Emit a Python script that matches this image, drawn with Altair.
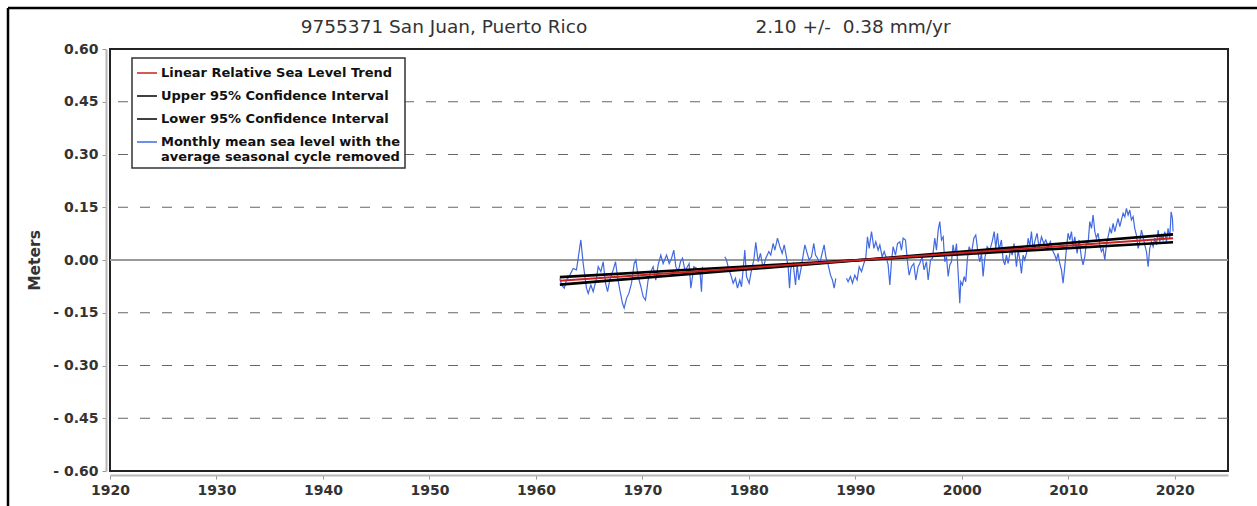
import altair as alt
import pandas as pd

# ---- station / fit summary ----
STATION = "9755371 San Juan, Puerto Rico"
RATE_MM_YR = 2.10
RATE_CI_MM_YR = 0.38
RATE_TEXT = "2.10 +/-\u00a0\u00a00.38 mm/yr"
FIT_YEARS = [1962.25, 2019.84]
PIVOT_YEAR = 1990.5

TREND = "Linear Relative Sea Level Trend"
UPPER = "Upper 95% Confidence Interval"
LOWER = "Lower 95% Confidence Interval"
MONTHLY = "Monthly mean sea level with the|average seasonal cycle removed"
SERIES = [TREND, UPPER, LOWER, MONTHLY]
SERIES_COLORS = ["#cc1f1f", "#000000", "#000000", "#4169e1"]

X_TICKS = [1920, 1930, 1940, 1950, 1960, 1970, 1980, 1990, 2000, 2010, 2020]
Y_TICKS = [-0.60, -0.45, -0.30, -0.15, 0.00, 0.15, 0.30, 0.45, 0.60]
GRID_LEVELS = [-0.45, -0.30, -0.15, 0.15, 0.30, 0.45]

# ---- monthly mean sea level (seasonal cycle removed), metres ----
RUN_A_YEARS = [1962.25, 1962.41, 1962.66, 1962.88, 1963.19, 1963.50, 1963.81, 1963.97,
               1964.22, 1964.44, 1964.75, 1964.91, 1965.16, 1965.38, 1965.69, 1965.85,
               1966.10, 1966.32, 1966.54, 1966.73, 1966.94, 1967.26, 1967.48, 1967.66,
               1967.88, 1968.13, 1968.29, 1968.51, 1968.73, 1968.98, 1969.23, 1969.39,
               1969.60, 1969.86, 1970.07, 1970.29, 1970.54, 1970.79, 1971.01, 1971.26,
               1971.48, 1971.73, 1971.95,
               1972.27, 1972.52, 1972.74, 1972.95, 1973.14, 1973.36, 1973.58, 1973.77,
               1973.99, 1974.14, 1974.39, 1974.55, 1974.71, 1974.83, 1975.15, 1975.40,
               1975.55, 1975.65]
RUN_A_LEVELS = [-0.052, -0.071, -0.080, -0.057, -0.043, -0.024, -0.028, 0.005,
                0.057, -0.010, -0.080, -0.095, -0.071, -0.090, -0.052, -0.019,
                -0.033, -0.005, -0.066, -0.090, -0.057, -0.028, -0.005, -0.047,
                -0.085, -0.123, -0.137, -0.109, -0.095, -0.066, -0.010, 0.000,
                -0.047, -0.076, -0.104, -0.114, -0.057, -0.033, -0.019, -0.057,
                -0.014, 0.014, -0.010,
                0.014, -0.010, 0.005, 0.028, -0.019, -0.033, -0.005, 0.005,
                -0.028, -0.024, -0.010, -0.080, -0.047, -0.019, -0.024, -0.028,
                -0.090, -0.019]

RUN_B_YEARS = [1977.74, 1977.90, 1978.12, 1978.31, 1978.53, 1978.74, 1978.93, 1979.15,
               1979.31, 1979.46, 1979.62, 1979.78, 1980.03, 1980.25, 1980.47, 1980.65,
               1980.87, 1981.09, 1981.34, 1981.59,
               1981.88, 1982.06, 1982.28, 1982.44, 1982.69, 1982.91, 1983.13, 1983.32,
               1983.53, 1983.69, 1983.82, 1983.94, 1984.16, 1984.38, 1984.54, 1984.69,
               1984.88, 1985.10, 1985.26, 1985.48, 1985.66, 1985.88, 1986.10, 1986.26,
               1986.45, 1986.66, 1986.88, 1987.07, 1987.23, 1987.45, 1987.67, 1987.85,
               1988.01, 1988.17]
RUN_B_LEVELS = [0.009, 0.000, -0.028, -0.043, -0.066, -0.052, -0.080, -0.057,
                -0.076, -0.028, 0.028, -0.047, -0.066, -0.028, 0.000, 0.050,
                -0.005, 0.019, -0.024, 0.005,
                0.024, 0.014, 0.047, 0.028, 0.062, 0.038, 0.019, 0.043,
                0.009, -0.019, -0.080, -0.024, -0.010, -0.071, -0.014, -0.057,
                -0.028, 0.014, 0.043, 0.019, 0.000, 0.009, 0.047, 0.014,
                0.005, -0.010, 0.019, 0.043, 0.009, -0.014, -0.043, -0.057,
                -0.080, -0.052]

RUN_C_YEARS = [1989.17, 1989.32, 1989.54, 1989.73, 1989.95, 1990.17, 1990.36, 1990.58,
               1990.80, 1990.98, 1991.14, 1991.30, 1991.52,
               1991.74, 1991.92, 1992.14, 1992.30, 1992.52, 1992.71, 1992.92, 1993.08,
               1993.24, 1993.39, 1993.55, 1993.77, 1993.96, 1994.18, 1994.33, 1994.49,
               1994.71, 1994.90, 1995.05, 1995.27, 1995.49, 1995.68, 1995.90, 1996.05,
               1996.27, 1996.46, 1996.68, 1996.84, 1997.06, 1997.24, 1997.46, 1997.62,
               1997.78, 1997.93, 1998.09, 1998.25, 1998.40, 1998.56, 1998.72, 1998.87,
               1999.03, 1999.18, 1999.34, 1999.50, 1999.65, 1999.81, 1999.90, 2000.06,
               2000.22, 2000.37, 2000.53, 2000.69, 2000.91, 2001.13, 2001.31,
               2001.53, 2001.69, 2001.85, 2002.00, 2002.16, 2002.38, 2002.63, 2002.85,
               2003.04, 2003.19, 2003.35, 2003.50, 2003.72, 2003.88, 2004.04, 2004.19,
               2004.35, 2004.57, 2004.73, 2004.91, 2005.13, 2005.29, 2005.45, 2005.60,
               2005.76, 2005.91, 2006.07, 2006.23, 2006.38, 2006.54, 2006.70, 2006.85,
               2007.07, 2007.26, 2007.48, 2007.70, 2007.89, 2008.11, 2008.32, 2008.51,
               2008.73, 2008.89, 2009.04, 2009.20, 2009.36, 2009.51, 2009.67, 2009.83,
               2009.98, 2010.14, 2010.30, 2010.45, 2010.61, 2010.83, 2011.02,
               2011.24, 2011.39, 2011.55, 2011.71, 2011.86, 2012.02, 2012.18, 2012.33,
               2012.49, 2012.64, 2012.80, 2012.96, 2013.11, 2013.27, 2013.43, 2013.58,
               2013.74, 2013.90, 2014.05, 2014.21, 2014.37, 2014.52, 2014.68, 2014.84,
               2014.99, 2015.15, 2015.31, 2015.46, 2015.62, 2015.77, 2015.93, 2016.09,
               2016.24, 2016.40, 2016.56, 2016.71, 2016.87, 2017.03, 2017.18, 2017.34,
               2017.50, 2017.65, 2017.81, 2017.97, 2018.12, 2018.28, 2018.44, 2018.59,
               2018.75, 2018.90, 2019.06, 2019.22, 2019.37, 2019.53, 2019.66, 2019.78,
               2019.84]
RUN_C_LEVELS = [-0.052, -0.062, -0.047, -0.066, -0.043, -0.057, -0.019, -0.033,
                -0.010, 0.005, 0.066, 0.033, 0.081,
                0.033, 0.052, 0.028, 0.043, 0.009, 0.024, 0.005, -0.014,
                -0.071, -0.005, 0.038, 0.014, 0.047, 0.052, 0.028, 0.062,
                0.057, -0.005, -0.043, -0.019, -0.010, -0.057, -0.019, -0.010,
                0.009, -0.028, -0.005, -0.057, 0.000, 0.005, 0.062, 0.028,
                0.085, 0.109, 0.057, 0.066, -0.005, 0.009, -0.047, -0.014,
                -0.005, 0.043, 0.014, 0.047, -0.033, -0.123, -0.062, -0.071,
                -0.047, -0.062, 0.005, 0.038, 0.019, 0.062, 0.071,
                0.019, -0.005, 0.019, -0.047, 0.005, 0.038, 0.028, 0.052,
                0.081, 0.033, 0.076, 0.028, 0.057, 0.000, -0.014, 0.014,
                -0.010, 0.028, 0.014, 0.047, -0.019, 0.028, 0.000, -0.038,
                0.014, 0.000, 0.019, 0.062, 0.038, 0.081, 0.028, 0.052,
                0.076, 0.033, 0.066, 0.047, 0.057, 0.038, 0.052, 0.028,
                0.014, 0.000, 0.019, -0.010, -0.028, -0.066, -0.019, 0.033,
                0.076, 0.057, 0.081, 0.038, 0.066, 0.019, 0.057,
                0.005, -0.014, 0.009, 0.052, 0.047, 0.109, 0.090, 0.128,
                0.081, 0.062, 0.076, 0.043, 0.024, 0.033, 0.000, 0.043,
                0.066, 0.090, 0.076, 0.104, 0.081, 0.100, 0.118, 0.095,
                0.114, 0.133, 0.123, 0.147, 0.128, 0.142, 0.114, 0.123,
                0.090, 0.071, 0.033, 0.052, 0.085, 0.066, 0.043, 0.024,
                -0.019, 0.033, 0.052, 0.038, 0.062, 0.043, 0.085, 0.052,
                0.071, 0.057, 0.081, 0.052, 0.090, 0.062, 0.137, 0.118,
                0.081]

RUNS = {"a": (RUN_A_YEARS, RUN_A_LEVELS),
        "b": (RUN_B_YEARS, RUN_B_LEVELS),
        "c": (RUN_C_YEARS, RUN_C_LEVELS)}

monthly_df = pd.concat(
    [pd.DataFrame({"year": yrs, "level": lv, "run": name, "series": MONTHLY})
     for name, (yrs, lv) in RUNS.items()],
    ignore_index=True,
)

# trend line and its 95% bounds, from the stated rate +/- its uncertainty (mm/yr -> m/yr)
fit_rows = []
for name, rate in [(TREND, RATE_MM_YR),
                   (UPPER, RATE_MM_YR + RATE_CI_MM_YR),
                   (LOWER, RATE_MM_YR - RATE_CI_MM_YR)]:
    for yr in FIT_YEARS:
        fit_rows.append({"year": yr, "level": rate / 1000.0 * (yr - PIVOT_YEAR), "series": name})
fit_df = pd.DataFrame(fit_rows)

LABEL_FONT = "DejaVu Sans"
TEXT_COLOR = "#333333"

x_enc = alt.X(
    "year:Q",
    scale=alt.Scale(domain=[1920, 2025], nice=False, zero=False),
    axis=alt.Axis(values=X_TICKS, format="d", grid=False, offset=4,
                  domainColor="#b8b8b8", domainWidth=2, tickColor="#999999",
                  tickSize=4, labelFont=LABEL_FONT, labelFontWeight="bold",
                  labelFontSize=14, labelColor=TEXT_COLOR, labelPadding=4,
                  labelFlush=False),
    title=None,
)
y_enc = alt.Y(
    "level:Q",
    scale=alt.Scale(domain=[-0.6, 0.6], nice=False),
    axis=alt.Axis(values=Y_TICKS, grid=False, offset=4,
                  labelExpr="datum.value < 0 ? '- ' + format(-datum.value, '.2f') : format(datum.value, '.2f')",
                  domainColor="#b8b8b8", domainWidth=2, tickColor="#999999",
                  tickSize=4, labelFont=LABEL_FONT, labelFontWeight="bold",
                  labelFontSize=14, labelColor=TEXT_COLOR, labelPadding=4,
                  titleFont=LABEL_FONT, titleFontWeight="bold", titleFontSize=15.5,
                  titleColor=TEXT_COLOR, titlePadding=10),
    title="Meters",
)
color_enc = alt.Color(
    "series:N",
    scale=alt.Scale(domain=SERIES, range=SERIES_COLORS),
    title=None,
    legend=alt.Legend(orient="none", legendX=22, legendY=9,
                      symbolType="stroke", symbolSize=400, symbolStrokeWidth=1.5,
                      labelFont=LABEL_FONT, labelFontWeight="bold", labelFontSize=13,
                      labelColor="#111111", labelExpr="split(datum.label, '|')",
                      labelLimit=400, labelOffset=3, rowPadding=5),
)

grid = alt.Chart(pd.DataFrame({"level": GRID_LEVELS})).mark_rule(
    color="#666666", strokeWidth=1, strokeDash=[10, 12]
).encode(y=y_enc)

zero_line = alt.Chart(pd.DataFrame({"level": [0.0]})).mark_rule(
    color="#999999", strokeWidth=2
).encode(y=y_enc)

monthly = alt.Chart(monthly_df).mark_line(strokeWidth=1.2).encode(
    x=x_enc, y=y_enc, color=color_enc, detail="run:N", order="year:Q"
)

bounds = alt.Chart(fit_df[fit_df["series"] != TREND]).mark_line(strokeWidth=2.6).encode(
    x=x_enc, y=y_enc, color=color_enc
)
trend = alt.Chart(fit_df[fit_df["series"] == TREND]).mark_line(strokeWidth=2).encode(
    x=x_enc, y=y_enc, color=color_enc
)

one = alt.Data(values=[{"k": 0}])
frame_top = alt.Chart(one).mark_rule(color="black", strokeWidth=2.5).encode(
    x=alt.value(-102), x2=alt.value(1147), y=alt.value(-41)
)
frame_left = alt.Chart(one).mark_rule(color="black", strokeWidth=2.5).encode(
    x=alt.value(-102), y=alt.value(-41), y2=alt.value(457)
)

station_title = alt.Chart(alt.Data(values=[{"t": STATION}])).mark_text(
    font=LABEL_FONT, fontSize=18.5, color=TEXT_COLOR, align="center", baseline="middle"
).encode(x=alt.value(334), y=alt.value(-22), text="t:N")
rate_title = alt.Chart(alt.Data(values=[{"t": RATE_TEXT}])).mark_text(
    font=LABEL_FONT, fontSize=18.5, color=TEXT_COLOR, align="center", baseline="middle"
).encode(x=alt.value(743), y=alt.value(-22), text="t:N")

chart = alt.layer(
    grid, zero_line, monthly, bounds, trend,
    frame_top, frame_left, station_title, rate_title,
).properties(
    width=1118, height=422,
    padding={"left": 110, "top": 49, "right": 29, "bottom": 35},
    autosize=alt.AutoSizeParams(type="none"),
    background="white",
).configure_view(
    stroke="#222222", strokeWidth=2
).configure_legend(
    strokeColor="#333333", strokeWidth=1.5, fillColor="white", padding=4
)

chart.save("out.html", embed_options={"renderer": "svg", "actions": False})
